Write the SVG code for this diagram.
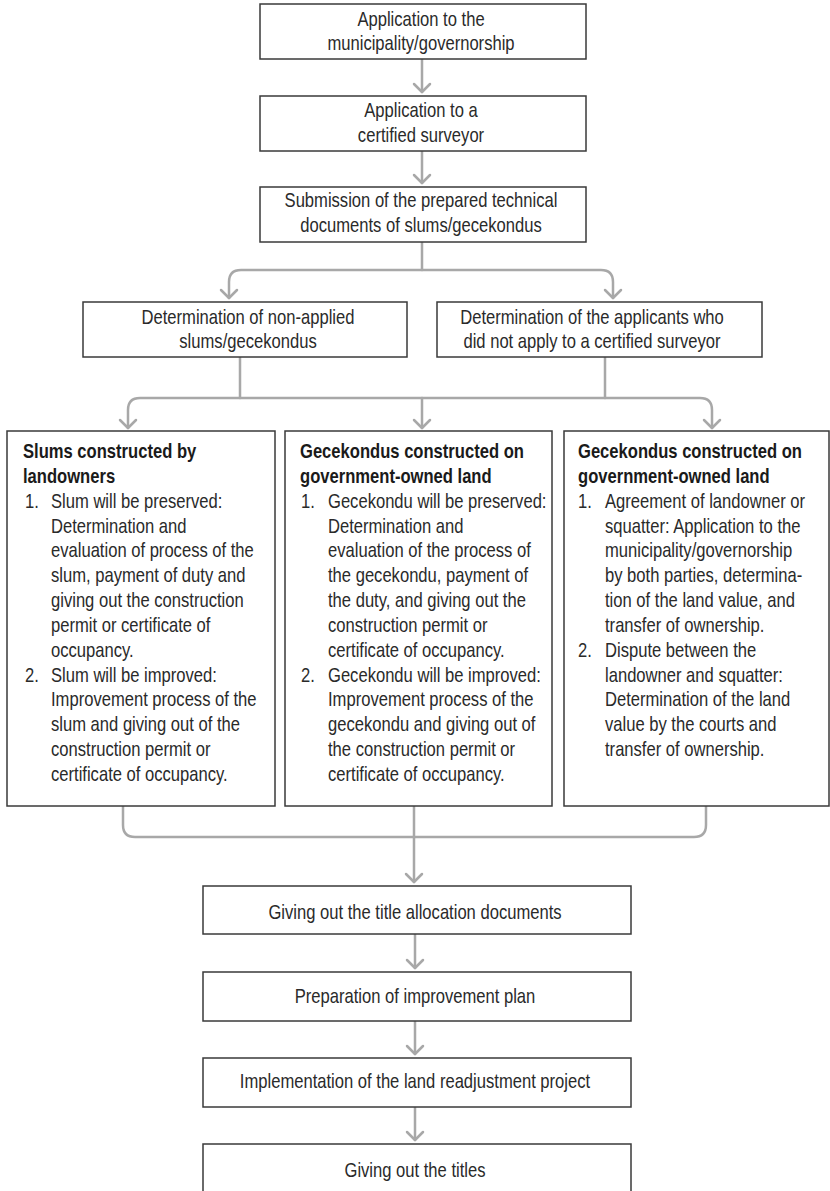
<svg xmlns="http://www.w3.org/2000/svg" width="830" height="1191" viewBox="0 0 830 1191">
<style>
.box{fill:#fff;stroke:#3a3a3a;stroke-width:1.5}
.t{font-family:"Liberation Sans",Arial,sans-serif;font-size:20px;fill:#2a2a2a}
.c{text-anchor:middle}
.b{font-weight:bold;fill:#1a1a1a}
.con{fill:none;stroke:#a8a8a8;stroke-width:2.5;stroke-linecap:round;stroke-linejoin:round}
</style>
<rect width="830" height="1191" fill="#fff"/>
<g id="connectors" class="con">
<path d="M422,59 V92"/>
<path d="M414,84 L422,92 L430,84"/>
<path d="M422,151 V183"/>
<path d="M414,175 L422,183 L430,175"/>
<path d="M422,242 V270"/>
<path d="M229,298 V282 Q229,270 241,270 H601 Q613,270 613,282 V298"/>
<path d="M221,290 L229,298 L237,290"/>
<path d="M605,290 L613,298 L621,290"/>
<path d="M240,357 V398"/>
<path d="M605,357 V398"/>
<path d="M128,428 V410 Q128,398 140,398 H700 Q712,398 712,410 V428"/>
<path d="M422,398 V428"/>
<path d="M120,420 L128,428 L136,420"/>
<path d="M414,420 L422,428 L430,420"/>
<path d="M704,420 L712,428 L720,420"/>
<path d="M123,806 V825 Q123,837 135,837 H694 Q706,837 706,825 V806"/>
<path d="M414,806 V882"/>
<path d="M406,874 L414,882 L422,874"/>
<path d="M415,934 V968"/>
<path d="M407,960 L415,968 L423,960"/>
<path d="M415,1021 V1054"/>
<path d="M407,1046 L415,1054 L423,1046"/>
<path d="M415,1107 V1140"/>
<path d="M407,1132 L415,1140 L423,1132"/>
</g>
<g id="n1"><rect class="box" x="260" y="4" width="326" height="55"/>
<g transform="translate(421 0) scale(.83 1)"><text class="t c" y="26">Application to the</text><text class="t c" y="50">municipality/governorship</text></g></g>
<g id="n2"><rect class="box" x="260" y="96" width="326" height="55"/>
<g transform="translate(421 0) scale(.83 1)"><text class="t c" y="117">Application to a</text><text class="t c" y="142">certified surveyor</text></g></g>
<g id="n3"><rect class="box" x="260" y="187" width="326" height="55"/>
<g transform="translate(421 0) scale(.83 1)"><text class="t c" y="207">Submission of the prepared technical</text><text class="t c" y="232">documents of slums/gecekondus</text></g></g>
<g id="n4"><rect class="box" x="83" y="302" width="324" height="55"/>
<g transform="translate(248 0) scale(.83 1)"><text class="t c" y="324">Determination of non-applied</text><text class="t c" y="348">slums/gecekondus</text></g></g>
<g id="n5"><rect class="box" x="437" y="302" width="325" height="55"/>
<g transform="translate(592 0) scale(.83 1)"><text class="t c" y="324">Determination of the applicants who</text><text class="t c" y="348">did not apply to a certified surveyor</text></g></g>
<g id="n6"><rect class="box" x="7" y="431" width="268" height="375"/>
<g transform="translate(23 0) scale(.83 1)">
<text class="t b" y="458">Slums constructed by</text>
<text class="t b" y="482.9">landowners</text></g>
<g transform="translate(25 0) scale(.83 1)">
<text class="t" y="507.7">1.</text>
<text class="t" y="681.7">2.</text></g>
<g transform="translate(51 0) scale(.83 1)">
<text class="t" y="507.7">Slum will be preserved:</text>
<text class="t" y="532.6">Determination and</text>
<text class="t" y="557.4">evaluation of process of the</text>
<text class="t" y="582.3">slum, payment of duty and</text>
<text class="t" y="607.1">giving out the construction</text>
<text class="t" y="632">permit or certificate of</text>
<text class="t" y="656.8">occupancy.</text>
<text class="t" y="681.7">Slum will be improved:</text>
<text class="t" y="706.5">Improvement process of the</text>
<text class="t" y="731.4">slum and giving out of the</text>
<text class="t" y="756.2">construction permit or</text>
<text class="t" y="781">certificate of occupancy.</text></g>
</g>
<g id="n7"><rect class="box" x="285" y="431" width="267" height="375"/>
<g transform="translate(300 0) scale(.83 1)">
<text class="t b" y="458">Gecekondus constructed on</text>
<text class="t b" y="482.9">government-owned land</text></g>
<g transform="translate(301 0) scale(.83 1)">
<text class="t" y="507.7">1.</text>
<text class="t" y="681.7">2.</text></g>
<g transform="translate(328 0) scale(.83 1)">
<text class="t" y="507.7">Gecekondu will be preserved:</text>
<text class="t" y="532.6">Determination and</text>
<text class="t" y="557.4">evaluation of the process of</text>
<text class="t" y="582.3">the gecekondu, payment of</text>
<text class="t" y="607.1">the duty, and giving out the</text>
<text class="t" y="632">construction permit or</text>
<text class="t" y="656.8">certificate of occupancy.</text>
<text class="t" y="681.7">Gecekondu will be improved:</text>
<text class="t" y="706.5">Improvement process of the</text>
<text class="t" y="731.4">gecekondu and giving out of</text>
<text class="t" y="756.2">the construction permit or</text>
<text class="t" y="781">certificate of occupancy.</text></g>
</g>
<g id="n8"><rect class="box" x="564" y="431" width="265" height="375"/>
<g transform="translate(578 0) scale(.83 1)">
<text class="t b" y="458">Gecekondus constructed on</text>
<text class="t b" y="482.9">government-owned land</text>
<text class="t" y="507.7">1.</text>
<text class="t" y="656.8">2.</text></g>
<g transform="translate(605 0) scale(.83 1)">
<text class="t" y="507.7">Agreement of landowner or</text>
<text class="t" y="532.6">squatter: Application to the</text>
<text class="t" y="557.4">municipality/governorship</text>
<text class="t" y="582.3">by both parties, determina-</text>
<text class="t" y="607.1">tion of the land value, and</text>
<text class="t" y="632">transfer of ownership.</text>
<text class="t" y="656.8">Dispute between the</text>
<text class="t" y="681.7">landowner and squatter:</text>
<text class="t" y="706.5">Determination of the land</text>
<text class="t" y="731.4">value by the courts and</text>
<text class="t" y="756.2">transfer of ownership.</text></g>
</g>
<g id="n9"><rect class="box" x="203" y="886" width="428" height="48"/>
<g transform="translate(415 0) scale(.83 1)"><text class="t c" y="919">Giving out the title allocation documents</text></g></g>
<g id="n10"><rect class="box" x="203" y="972" width="428" height="49"/>
<g transform="translate(415 0) scale(.83 1)"><text class="t c" y="1003">Preparation of improvement plan</text></g></g>
<g id="n11"><rect class="box" x="203" y="1058" width="428" height="49"/>
<g transform="translate(415 0) scale(.83 1)"><text class="t c" y="1088">Implementation of the land readjustment project</text></g></g>
<g id="n12"><rect class="box" x="203" y="1144" width="428" height="60"/>
<g transform="translate(415 0) scale(.83 1)"><text class="t c" y="1177">Giving out the titles</text></g></g>
</svg>
